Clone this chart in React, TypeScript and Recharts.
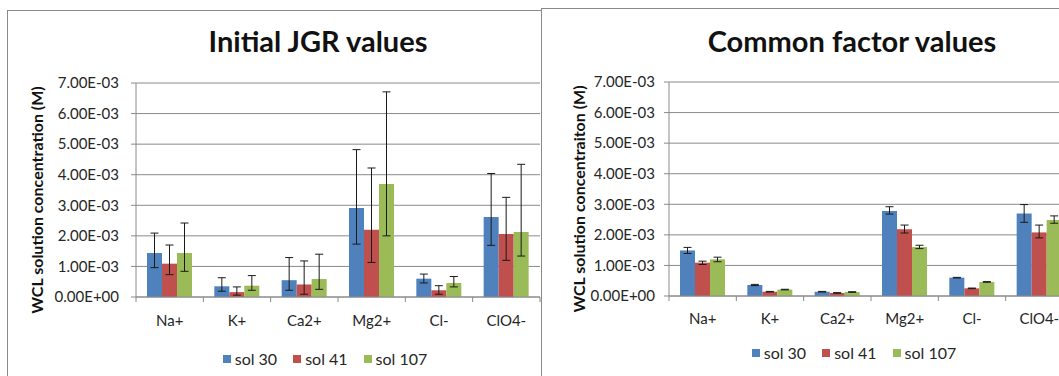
import React from 'react';
import { BarChart, Bar, XAxis, YAxis, CartesianGrid, ErrorBar, Legend } from 'recharts';

// Categories, series and value-axis ticks
const ions = ['Na+', 'K+', 'Ca2+', 'Mg2+', 'Cl-', 'ClO4-'];
const solNames = ['sol 30', 'sol 41', 'sol 107'];
const solColors = ['#4F81BD', '#C0504D', '#9BBB59'];
const concTicks = [0, 0.001, 0.002, 0.003, 0.004, 0.005, 0.006, 0.007];

// Initial JGR values (M): bar heights and error-bar ends
const jgrSol30 = [0.00144, 0.00035, 0.00055, 0.00291, 0.0006, 0.00262];
const jgrSol30Low = [0.00096, 0.00019, 0.00022, 0.00173, 0.00046, 0.00169];
const jgrSol30High = [0.00209, 0.00063, 0.00129, 0.00482, 0.00075, 0.00404];

const jgrSol41 = [0.00109, 0.00016, 0.00041, 0.0022, 0.00022, 0.00206];
const jgrSol41Low = [0.00073, 0.00006, 0.00009, 0.00113, 0.00009, 0.0012];
const jgrSol41High = [0.0017, 0.00033, 0.00118, 0.00422, 0.00037, 0.00326];

const jgrSol107 = [0.00144, 0.00037, 0.00059, 0.0037, 0.00046, 0.00213];
const jgrSol107Low = [0.00084, 0.00022, 0.00025, 0.002, 0.00033, 0.00134];
const jgrSol107High = [0.00242, 0.0007, 0.0014, 0.00671, 0.00067, 0.00434];

// Common factor values (M): bar heights and error-bar ends
const cfSol30 = [0.00149, 0.00036, 0.00014, 0.00278, 0.0006, 0.0027];
const cfSol30Low = [0.00139, 0.00034, 0.00013, 0.00268, 0.00059, 0.00241];
const cfSol30High = [0.00159, 0.00038, 0.00015, 0.00292, 0.00061, 0.00299];

const cfSol41 = [0.00109, 0.00014, 0.0001, 0.00218, 0.00025, 0.00208];
const cfSol41Low = [0.00103, 0.00013, 0.00009, 0.00206, 0.00024, 0.0019];
const cfSol41High = [0.00114, 0.00015, 0.00011, 0.00232, 0.00026, 0.00232];

const cfSol107 = [0.0012, 0.00021, 0.00013, 0.0016, 0.00046, 0.00249];
const cfSol107Low = [0.00112, 0.0002, 0.00012, 0.00155, 0.00045, 0.00238];
const cfSol107High = [0.00127, 0.00022, 0.00014, 0.00166, 0.00047, 0.00262];

type Row = Record<string, string | number | number[]>;

function buildRows(values: number[][], lows: number[][], highs: number[][]): Row[] {
  return ions.map((ion, i) => {
    const row: Row = { ion };
    values.forEach((v, s) => {
      row[`s${s}`] = v[i];
      row[`e${s}`] = [v[i] - lows[s][i], highs[s][i] - v[i]];
    });
    return row;
  });
}

const jgrRows = buildRows(
  [jgrSol30, jgrSol41, jgrSol107],
  [jgrSol30Low, jgrSol41Low, jgrSol107Low],
  [jgrSol30High, jgrSol41High, jgrSol107High]
);
const cfRows = buildRows(
  [cfSol30, cfSol41, cfSol107],
  [cfSol30Low, cfSol41Low, cfSol107Low],
  [cfSol30High, cfSol41High, cfSol107High]
);

// Excel-style scientific labels: 7.00E-03, 0.00E+00
const sci = (v: number) => {
  if (v === 0) return '0.00E+00';
  const [m, e] = v.toExponential(2).split('e');
  const sign = e.startsWith('-') ? '-' : '+';
  return `${m}E${sign}${e.replace(/^[+-]/, '').padStart(2, '0')}`;
};

const FONT = 'Lato, "Open Sans", sans-serif';
const AXIS_GRAY = '#8a8a8a';
const TEXT = '#262626';
const PANEL_W = 620;
const PANEL_H = 380;

const CategoryTick = (props: any) => {
  const { x, y, payload, index, band, labelDy } = props;
  const half = band / 2;
  return (
    <g>
      <line x1={x - half} x2={x - half} y1={y} y2={y + 5} stroke={AXIS_GRAY} />
      {index === ions.length - 1 && (
        <line x1={x + half} x2={x + half} y1={y} y2={y + 5} stroke={AXIS_GRAY} />
      )}
      <text
        x={x}
        y={y + labelDy}
        textAnchor="middle"
        dominantBaseline="central"
        fill={TEXT}
        style={{ fontFamily: FONT, fontSize: 15 }}
      >
        {payload.value}
      </text>
    </g>
  );
};

const LegendContent = (props: any) => {
  const items = [...((props.payload || []) as any[])].sort(
    (a, b) => solNames.indexOf(a.value) - solNames.indexOf(b.value)
  );
  return (
    <div
      style={{
        display: 'flex',
        justifyContent: 'center',
        alignItems: 'center',
        fontFamily: FONT,
        fontSize: 16,
        lineHeight: '20px',
        color: TEXT,
      }}
    >
      {items.map((it) => (
        <span key={it.value} style={{ display: 'flex', alignItems: 'center', margin: '0 8px' }}>
          <span style={{ width: 8, height: 8, background: it.color, marginRight: 4 }} />
          {it.value}
        </span>
      ))}
    </div>
  );
};

type PanelProps = {
  title: string;
  yLabel: string;
  rows: Row[];
  left: number;
  top: number;
  titleTop: number;
  axisWidth: number;
  plotTop: number;
  plotBottom: number;
  plotRight: number;
  tickGap: number;
  yLabelX: number;
  yLabelY: number;
  labelDy: number;
  legendTop: number;
  legendShift: number;
};

function Panel(p: PanelProps) {
  const band = (p.plotRight - p.axisWidth) / ions.length;
  return (
    <div
      style={{
        position: 'absolute',
        left: p.left,
        top: p.top,
        width: PANEL_W,
        height: PANEL_H,
        border: `1px solid ${AXIS_GRAY}`,
        background: '#fff',
      }}
    >
      <div
        style={{
          position: 'absolute',
          left: 0,
          top: p.titleTop,
          width: PANEL_W,
          textAlign: 'center',
          fontFamily: FONT,
          fontWeight: 700,
          fontSize: 29,
          lineHeight: 1.2,
          color: '#111',
          zIndex: 1,
        }}
      >
        {p.title}
      </div>
      <BarChart
        width={PANEL_W}
        height={PANEL_H}
        data={p.rows}
        margin={{ top: p.plotTop, right: PANEL_W - p.plotRight, bottom: 0, left: 0 }}
        barGap={0}
        barSize={15}
      >
        <CartesianGrid vertical={false} stroke={AXIS_GRAY} />
        <XAxis
          dataKey="ion"
          height={PANEL_H - p.plotBottom}
          axisLine={{ stroke: AXIS_GRAY }}
          tickLine={false}
          tickSize={0}
          tickMargin={0}
          interval={0}
          tick={<CategoryTick band={band} labelDy={p.labelDy} />}
        />
        <YAxis
          width={p.axisWidth}
          domain={[0, 0.007]}
          ticks={concTicks}
          interval={0}
          tickFormatter={sci}
          axisLine={{ stroke: AXIS_GRAY }}
          tickLine={{ stroke: AXIS_GRAY }}
          tickSize={5}
          tickMargin={p.tickGap}
          tick={{ fill: TEXT, fontFamily: FONT, fontSize: 15 }}
          label={{
            content: () => (
              <text
                x={p.yLabelX}
                y={p.yLabelY}
                transform={`rotate(-90 ${p.yLabelX} ${p.yLabelY})`}
                textAnchor="middle"
                dominantBaseline="central"
                fill="#111"
                style={{ fontFamily: FONT, fontWeight: 700, fontSize: 16 }}
              >
                {p.yLabel}
              </text>
            ),
          }}
        />
        <Legend
          layout="horizontal"
          verticalAlign="middle"
          align="center"
          wrapperStyle={{ top: p.legendTop, left: p.legendShift, width: PANEL_W }}
          content={LegendContent}
        />
        {solNames.map((name, s) => (
          <Bar key={name} dataKey={`s${s}`} name={name} fill={solColors[s]} isAnimationActive={false}>
            <ErrorBar dataKey={`e${s}`} width={4} stroke="#1a1a1a" strokeWidth={1} />
          </Bar>
        ))}
      </BarChart>
    </div>
  );
}

export default function App() {
  return (
    <div
      style={{
        position: 'fixed',
        left: 0,
        top: 0,
        width: 1059,
        height: 376,
        overflow: 'hidden',
        background: '#fff',
      }}
    >
      <Panel
        title="Initial JGR values"
        yLabel="WCL solution concentration (M)"
        rows={jgrRows}
        left={7}
        top={10}
        titleTop={13}
        axisWidth={128}
        plotTop={72}
        plotBottom={286}
        plotRight={532}
        tickGap={12}
        yLabelX={28}
        yLabelY={189}
        labelDy={23}
        legendTop={338}
        legendShift={7}
      />
      <Panel
        title="Common factor values"
        yLabel="WCL solution concentraiton (M)"
        rows={cfRows}
        left={541}
        top={8}
        titleTop={15}
        axisWidth={127}
        plotTop={73}
        plotBottom={287}
        plotRight={531}
        tickGap={9}
        yLabelX={36}
        yLabelY={190}
        labelDy={22}
        legendTop={334}
        legendShift={2}
      />
    </div>
  );
}
